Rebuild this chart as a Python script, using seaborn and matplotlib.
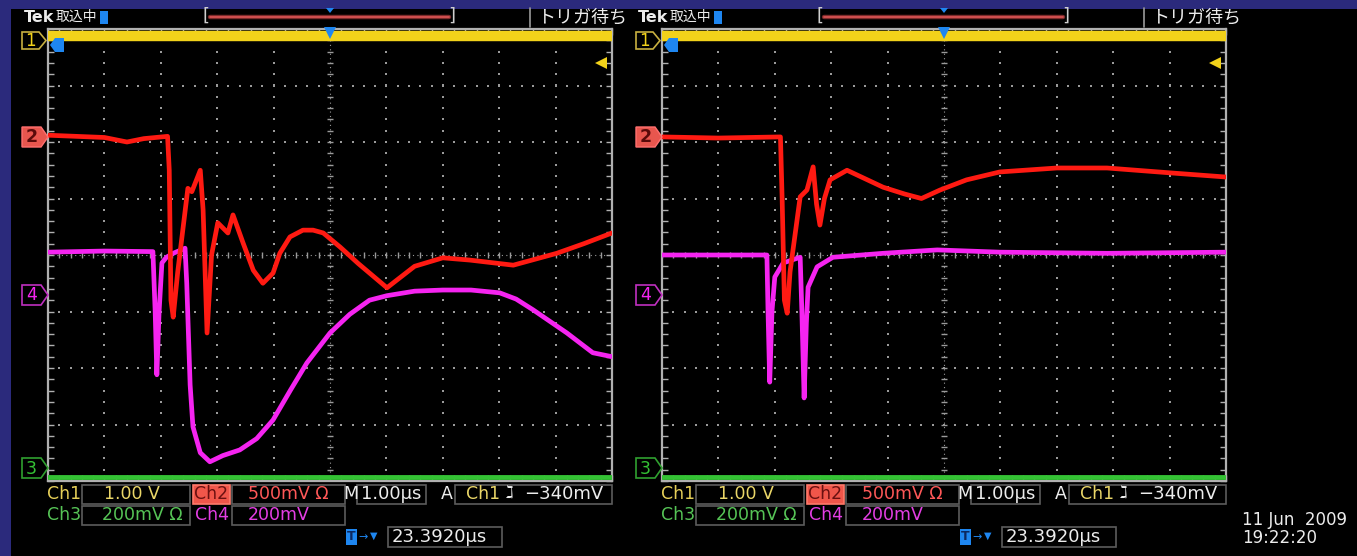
import numpy as np
import pandas as pd
import matplotlib
matplotlib.use('Agg')
import matplotlib.pyplot as plt
import seaborn as sns
from matplotlib.patches import Rectangle, Polygon
from matplotlib.lines import Line2D

sns.set_theme(style='dark')
plt.rcParams['font.family'] = ['DejaVu Sans', 'Noto Sans CJK JP']

W, H = 1357, 556

# ---------------- data (x in divisions 0..10, y in divisions -4..4) -------------
left_ch2_x = [0, 1.0, 1.4, 1.7, 2.12, 2.15, 2.18, 2.22, 2.3, 2.48, 2.55, 2.7, 2.75, 2.82, 2.9, 3.01,
              3.19, 3.28, 3.46, 3.64, 3.81, 3.99, 4.11, 4.29, 4.52, 4.7, 4.88, 5.18, 5.5, 6.01, 6.5, 7.0,
              7.48, 8.25, 9.02, 9.5, 10]
left_ch2_y = [2.12, 2.08, 2.0, 2.06, 2.1, 1.5, -0.8, -1.1, -0.3, 1.18, 1.12, 1.5, 0.8, -1.38, 0.0, 0.57,
              0.39, 0.71, 0.21, -0.27, -0.5, -0.32, 0.03, 0.32, 0.44, 0.44, 0.39, 0.14, -0.15, -0.58, -0.2, -0.05,
              -0.09, -0.18, 0.03, 0.2, 0.39]

left_ch4_x = [0, 1.0, 1.86, 1.9, 1.93, 1.97, 2.02, 2.1, 2.22, 2.43, 2.46, 2.52, 2.57, 2.7, 2.87, 3.1,
              3.4, 3.7, 3.99, 4.3, 4.59, 5.0, 5.35, 5.7, 6.01, 6.5, 7.0, 7.5, 8.01, 8.3, 8.6, 9.2, 9.66, 10]
left_ch4_y = [0.05, 0.07, 0.06, -1.0, -2.12, -1.0, -0.14, -0.04, 0.03, 0.12, -0.5, -2.3, -3.04, -3.5, -3.66, -3.55,
              -3.45, -3.25, -2.92, -2.39, -1.91, -1.38, -1.05, -0.8, -0.72, -0.64, -0.62, -0.62, -0.67, -0.78, -0.97,
              -1.38, -1.73, -1.8]

right_ch2_x = [0, 1.0, 2.1, 2.13, 2.17, 2.22, 2.27, 2.45, 2.57, 2.68, 2.74, 2.8, 2.88, 2.98, 3.28, 3.6,
               3.92, 4.3, 4.6, 4.93, 5.4, 5.99, 7.0, 7.89, 9.06, 10]
right_ch2_y = [2.09, 2.07, 2.09, 1.0, -0.8, -1.03, -0.3, 1.03, 1.15, 1.56, 0.9, 0.53, 1.0, 1.33, 1.5, 1.35,
               1.2, 1.08, 1.0, 1.15, 1.33, 1.47, 1.54, 1.54, 1.45, 1.38]

right_ch4_x = [0, 1.0, 1.86, 1.88, 1.91, 1.95, 2.0, 2.15, 2.45, 2.48, 2.52, 2.56, 2.59, 2.75, 3.03, 3.92,
               4.88, 5.99, 7.89, 10]
right_ch4_y = [0.0, 0.0, 0.0, -1.0, -2.25, -1.0, -0.39, -0.14, -0.04, -1.0, -2.53, -1.2, -0.57, -0.21, -0.04, 0.03,
               0.09, 0.05, 0.03, 0.05]

ch1_x = [0, 10]
ch1_y = [3.88, 3.88]
ch3_x = [0, 10]
ch3_y = [-3.93, -3.93]

readout_row1 = ["Ch1", "1.00 V", "Ch2", "500mV Ω", "M", "1.00µs", "A", "Ch1", "ℷ", "−340mV"]
readout_row2 = ["Ch3", "200mV Ω", "Ch4", "200mV"]
delay_text = "23.3920µs"
header_texts = ["Tek", "取込中", "トリガ待ち"]
date_text = ["11 Jun  2009", "19:22:20"]

# ---------------- colours ----------------
YEL = '#f2d21a'
RED = '#ff1a12'
MAG = '#f524f0'
GRN = '#34c234'
GRAT = '#9a9a9a'
WHITE = '#ececec'
BLUE = '#1e86f0'
CJK = ['Noto Sans CJK JP', 'DejaVu Sans']

fig = plt.figure(figsize=(W / 100, H / 100), dpi=100)
fig.patch.set_facecolor('#2b2a7c')


def fx(x):
    return x / W


def fy(y):
    return 1 - y / H


def ftext(x, y, s, color=WHITE, size=12.5, ha='left', va='center', weight='normal', **kw):
    fig.text(fx(x), fy(y), s, color=color, fontsize=size, ha=ha, va=va, weight=weight, zorder=5, **kw)


def fbox(x0, y0, x1, y1, ec='#5c5c5c', fc='none', lw=1.2, z=1):
    fig.patches.append(Rectangle((fx(x0), fy(y1)), (x1 - x0) / W, (y1 - y0) / H,
                                 transform=fig.transFigure, ec=ec, fc=fc, lw=lw, zorder=z))


def fpoly(pts, ec='none', fc='none', lw=1.2, z=2):
    fig.patches.append(Polygon([(fx(a), fy(b)) for a, b in pts], closed=True,
                               transform=fig.transFigure, ec=ec, fc=fc, lw=lw, zorder=z))


def fline(xs, ys, color, lw=1.2, z=3):
    fig.lines.append(Line2D([fx(a) for a in xs], [fy(b) for b in ys], transform=fig.transFigure,
                            color=color, lw=lw, zorder=z))


# black screen area (behind the axes)
fbox(11, 9, W + 2, H + 2, ec='none', fc='black', z=-5)


def graticule(ax):
    ax.set_facecolor('black')
    ax.set_xlim(0, 10)
    ax.set_ylim(-4, 4)
    for s in ax.spines.values():
        s.set_color('#b0b0b0')
        s.set_linewidth(1.6)
        s.set_visible(True)
    ax.set_xticks(np.arange(0, 10.01, 1))
    ax.set_yticks(np.arange(-4, 4.01, 1))
    ax.set_xticks(np.arange(0, 10.01, 0.2), minor=True)
    ax.set_yticks(np.arange(-4, 4.01, 0.2), minor=True)
    ax.tick_params(which='both', direction='in', length=4, width=1, color='#b0b0b0',
                   top=True, right=True, bottom=True, left=True,
                   labelbottom=False, labelleft=False)
    ax.grid(False)
    xs = np.arange(0, 10.001, 0.2)
    ys = np.arange(-4, 4.001, 0.2)
    for yv in [-3, -2, -1, 1, 2, 3]:
        ax.plot(xs, np.full_like(xs, yv), ls='none', marker='s', ms=1.5, color=GRAT, mew=0)
    for xv in [1, 2, 3, 4, 6, 7, 8, 9]:
        ax.plot(np.full_like(ys, xv), ys, ls='none', marker='s', ms=1.5, color=GRAT, mew=0)
    # centre crosshair with small tick marks
    ax.plot(xs, np.zeros_like(xs), ls=(0, (1, 3)), lw=0.8, color=GRAT)
    ax.plot(np.full_like(ys, 5), ys, ls=(0, (1, 3)), lw=0.8, color=GRAT)
    ax.plot(xs, np.zeros_like(xs), ls='none', marker='|', ms=5, mew=1, color=GRAT)
    ax.plot(np.full_like(ys, 5), ys, ls='none', marker='_', ms=5, mew=1, color=GRAT)


panels = [
    (48, left_ch2_x, left_ch2_y, left_ch4_x, left_ch4_y),
    (662, right_ch2_x, right_ch2_y, right_ch4_x, right_ch4_y),
]

for (px0, c2x, c2y, c4x, c4y) in panels:
    ax = fig.add_axes([fx(px0), fy(481), 564 / W, 452 / H])
    ax.set_zorder(1)
    graticule(ax)
    sns.lineplot(x=ch1_x, y=ch1_y, ax=ax, color=YEL, linewidth=7.5, sort=False, estimator=None, zorder=5)
    sns.lineplot(x=ch3_x, y=ch3_y, ax=ax, color=GRN, linewidth=3.5, sort=False, estimator=None, zorder=5)
    sns.lineplot(x=c4x, y=c4y, ax=ax, color=MAG, linewidth=3.4, sort=False, estimator=None, zorder=6)
    sns.lineplot(x=c2x, y=c2y, ax=ax, color=RED, linewidth=3.4, sort=False, estimator=None, zorder=7)
    # trigger position marker at top centre and trigger level arrow
    ax.plot([5], [3.93], marker='v', ms=9, color=BLUE, mew=0, zorder=8, clip_on=False)
    ax.plot([9.8], [3.4], marker='<', ms=8, color=YEL, mew=0, zorder=8, clip_on=False)
    ax.set_xlabel('')
    ax.set_ylabel('')
    if ax.get_legend():
        ax.get_legend().remove()

for off in [0, 614]:
    # ---- header ----
    ftext(24 + off, 17, header_texts[0], size=11.5, weight='bold')
    ftext(56 + off, 17, header_texts[1], size=10, family=CJK)
    fbox(100 + off, 11, 108 + off, 24, ec='none', fc=BLUE, z=3)
    fline([104 + off, 104 + off], [13, 22], '#d0e4ff', lw=1.3)
    ftext(206 + off, 16, "[", color='#cfcfcf', size=13, ha='center')
    ftext(452 + off, 16, "]", color='#cfcfcf', size=13, ha='center')
    fline([210 + off, 449 + off], [17, 17], '#7a2a2a', lw=3.2)
    fline([210 + off, 449 + off], [17, 17], '#d05050', lw=1.4)
    fpoly([(326 + off, 8), (334 + off, 8), (330 + off, 13)], fc=BLUE, z=3)
    fline([530 + off, 530 + off], [8, 27], '#9a9a9a', lw=1.2)
    ftext(537 + off, 17, header_texts[2], size=13, family=CJK)

    # ---- channel markers at left edge ----
    gx = 22 + off
    fpoly([(gx, 32), (gx + 17, 32), (gx + 24, 40.5), (gx + 17, 49), (gx, 49)], ec='#c8b040', fc='black', lw=1.2)
    ftext(gx + 8.5, 41, "1", color=YEL, size=12, ha='center')
    fpoly([(gx, 127), (gx + 19, 127), (gx + 26, 137), (gx + 19, 147), (gx, 147)], ec='#ff7070', fc='#e8564e', lw=1.0)
    ftext(gx + 9.5, 137.5, "2", color='#5a0a0a', size=12.5, ha='center', weight='bold')
    fpoly([(gx, 285), (gx + 19, 285), (gx + 26, 295), (gx + 19, 305), (gx, 305)], ec='#c030c0', fc='black', lw=1.2)
    ftext(gx + 9.5, 295.5, "4", color=MAG, size=12.5, ha='center')
    fpoly([(gx, 458), (gx + 19, 458), (gx + 26, 468), (gx + 19, 478), (gx, 478)], ec='#30a030', fc='black', lw=1.2)
    ftext(gx + 9.5, 468.5, "3", color=GRN, size=12.5, ha='center')
    # ch1 ground marker (blue)
    fpoly([(50 + off, 45), (55 + off, 38), (64 + off, 38), (64 + off, 52), (55 + off, 52)], fc=BLUE, z=3)
    fline([59 + off, 59 + off], [40, 50], '#0c2860', lw=1.4)

    # ---- readouts row 1 ----
    y1 = 494
    ftext(47 + off, y1, readout_row1[0], color='#e6cf58')
    fbox(82 + off, 485, 190 + off, 504)
    ftext(104 + off, y1, readout_row1[1], color='#ead668')
    fbox(193 + off, 485, 230 + off, 504, ec='#ff7a6a', fc='#f0564a')
    ftext(211.5 + off, y1, readout_row1[2], color='#6a1010', ha='center')
    fbox(232 + off, 485, 345 + off, 504)
    ftext(248 + off, y1, readout_row1[3], color='#ff5858')
    ftext(343 + off, y1, readout_row1[4])
    fbox(357 + off, 485, 426 + off, 504)
    ftext(361 + off, y1, readout_row1[5], size=13)
    ftext(441 + off, y1, readout_row1[6])
    fbox(455 + off, 485, 612 + off, 504)
    ftext(466 + off, y1, readout_row1[7], color='#ead668')
    ftext(506 + off, y1, readout_row1[8], size=12)
    ftext(524 + off, y1, readout_row1[9], size=13)

    # ---- readouts row 2 ----
    y2 = 515
    ftext(47 + off, y2, readout_row2[0], color='#56c456')
    fbox(82 + off, 506, 190 + off, 525)
    ftext(102 + off, y2, readout_row2[1], color='#56c456')
    ftext(195 + off, y2, readout_row2[2], color='#e43ee4')
    fbox(232 + off, 506, 345 + off, 525)
    ftext(248 + off, y2, readout_row2[3], color='#e43ee4')

    # ---- row 3: trigger delay ----
    y3 = 537
    fbox(346 + off, 529, 357 + off, 545, ec='none', fc=BLUE, z=3)
    ftext(351.5 + off, y3, "T", color='#0c2860', size=9, ha='center', weight='bold')
    ftext(358 + off, y3, "→", color=BLUE, size=8)
    ftext(370 + off, y3 - 1, "▼", color=BLUE, size=7)
    fbox(388 + off, 527, 502 + off, 547)
    ftext(392 + off, y3, delay_text, size=13)

ftext(1242, 520, date_text[0], size=12)
ftext(1242, 538, date_text[1], size=12)

fig.savefig('out.png', dpi=100, facecolor=fig.get_facecolor())
